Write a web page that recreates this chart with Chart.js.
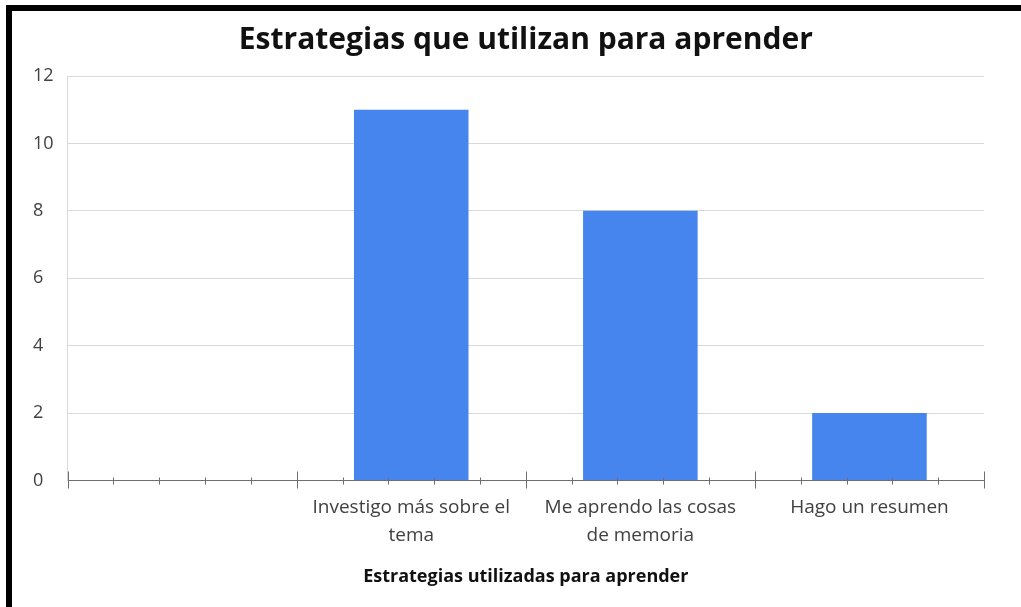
<!DOCTYPE html>
<html>
<head>
<meta charset="utf-8">
<script src="https://cdn.jsdelivr.net/npm/chart.js@4"></script>
<style>
  body { margin: 0; background: #fff; }
  #wrap { position: absolute; left: 0; top: 0; width: 1021px; height: 607px; }
  #frame {
    position: absolute; left: 6px; top: 5px; right: 0; bottom: 0;
    border-top: 6px solid #000; border-left: 6px solid #000;
    pointer-events: none;
  }
</style>
</head>
<body>
<div id="wrap"><canvas id="plot"></canvas></div>
<div id="frame"></div>
<script>
var categories = ['', ['Investigo más sobre el', 'tema'], ['Me aprendo las cosas', 'de memoria'], 'Hago un resumen'];
var counts = [null, 11, 8, 2];
var yTicks = [0, 2, 4, 6, 8, 10, 12];

// small tick marks crossing the x axis, 5 per category
const crossTicks = {
  id: 'crossTicks',
  afterDatasetsDraw(chart) {
    const ctx = chart.ctx;
    const xm = chart.scales.xm;
    const y0 = chart.scales.y.getPixelForValue(0);
    ctx.save();
    ctx.strokeStyle = '#6e6e6e';
    ctx.lineWidth = 1;
    for (let i = 0; i <= 20; i++) {
      const x = Math.round(xm.getPixelForValue(i)) + 0.5;
      const major = i % 5 === 0;
      ctx.beginPath();
      ctx.moveTo(x, y0 - (major ? 9 : 3));
      ctx.lineTo(x, y0 + (major ? 8 : 4));
      ctx.stroke();
    }
    ctx.restore();
  }
};

const ctx = document.getElementById('plot').getContext('2d');
var myChart = new Chart(ctx, {
  type: 'bar',
  data: {
    labels: categories,
    datasets: [{
      label: 'Estrategias',
      data: counts,
      backgroundColor: 'rgb(70, 132, 238)',
      borderWidth: 0,
      barPercentage: 0.5,
      categoryPercentage: 1.0
    }]
  },
  options: {
    animation: false,
    responsive: true,
    maintainAspectRatio: false,
    layout: { padding: { left: 33, right: 37, top: 4, bottom: 19 } },
    scales: {
      x: {
        grid: { display: false, drawTicks: false },
        border: { color: '#6e6e6e' },
        ticks: {
          color: '#404040',
          font: { family: 'Open Sans', size: 19, lineHeight: 1.47 },
          padding: 13,
          maxRotation: 0,
          autoSkip: false
        },
        title: {
          display: true,
          text: 'Estrategias utilizadas para aprender',
          color: '#111',
          font: { family: 'Open Sans', size: 18, weight: 'bold' },
          padding: { top: 4, bottom: 0 }
        }
      },
      xm: {
        type: 'linear',
        display: false,
        offset: false,
        min: 0,
        max: 20
      },
      y: {
        min: 0,
        max: 12,
        afterBuildTicks: function (axis) {
          axis.ticks = yTicks.map(v => ({ value: v }));
        },
        grid: { color: '#d9d9d9', drawTicks: false },
        border: { color: '#d9d9d9' },
        ticks: {
          color: '#404040',
          font: { family: 'Open Sans', size: 18 },
          crossAlign: 'far',
          padding: 7
        }
      }
    },
    plugins: {
      legend: { display: false },
      tooltip: { enabled: false },
      title: {
        display: true,
        fullSize: false,
        text: 'Estrategias que utilizan para aprender',
        color: '#111',
        font: { family: 'Open Sans', size: 30, weight: 'bold' },
        padding: { top: 18, bottom: 18 }
      }
    }
  },
  plugins: [crossTicks]
});
</script>
</body>
</html>
